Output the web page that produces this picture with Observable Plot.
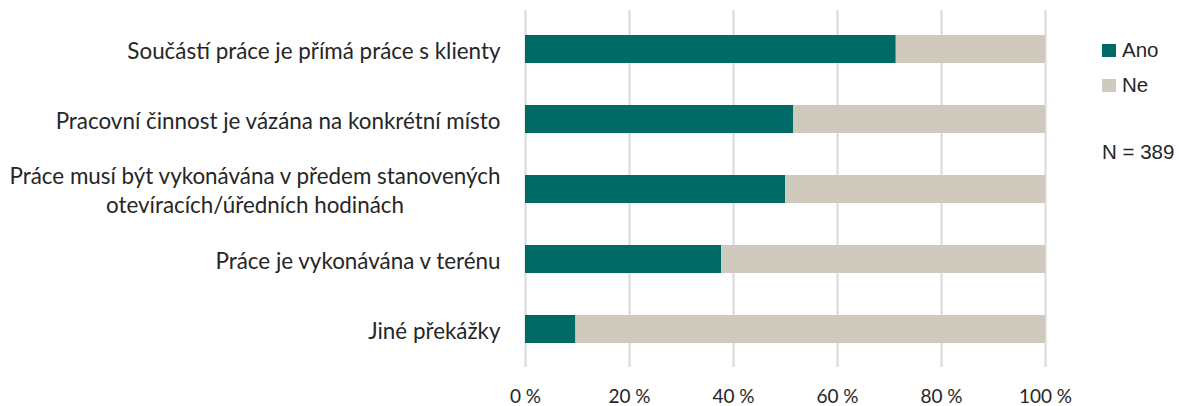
<!DOCTYPE html>
<html>
<head>
<meta charset="utf-8">
<script src="https://cdn.jsdelivr.net/npm/d3@7"></script>
<script src="https://cdn.jsdelivr.net/npm/@observablehq/plot@0.6"></script>
<style>
  body { margin: 0; background: #fff; }
  #wrap { position: relative; width: 1179px; height: 406px; }
  #legend { position: absolute; left: 1102px; top: 37px; font-family: "Liberation Sans", Arial, sans-serif; font-size: 20.5px; color: #262626; }
  .item { display: flex; align-items: center; height: 26px; margin-bottom: 9px; }
  .sw { width: 14px; height: 13px; margin-right: 6px; }
  #note { position: absolute; left: 1102px; top: 140px; font-family: "Liberation Sans", Arial, sans-serif; font-size: 20.5px; color: #262626; white-space: nowrap; }
</style>
</head>
<body>
<div id="wrap"><div id="legend"></div><div id="note"></div></div>
<script>
const categories = [
  "Součástí práce je přímá práce s klienty",
  "Pracovní činnost je vázána na konkrétní místo",
  "Práce musí být vykonávána v předem stanovených\notevíracích/úředních hodinách",
  "Práce je vykonávána v terénu",
  "Jiné překážky"
];
const ano = [71.3, 51.6, 50.0, 37.7, 9.7];
const ne = [28.7, 48.4, 50.0, 62.3, 90.3];
const series = ["Ano", "Ne"];
const colors = ["#006b66", "#d0c9bd"];
const xTicks = [0, 20, 40, 60, 80, 100];
const note = "N = 389";

const data = categories.flatMap((c, i) => [
  {cat: c, s: series[0], v: ano[i]},
  {cat: c, s: series[1], v: ne[i]}
]);

const chart = Plot.plot({
  width: 1179,
  height: 406,
  marginLeft: 525,
  marginRight: 134,
  marginTop: 12,
  marginBottom: 40,
  style: {fontFamily: "Lato, sans-serif", fontSize: "19px", color: "#262626", background: "transparent"},
  x: {domain: [0, 100], label: null},
  y: {domain: categories, paddingInner: 0.6, paddingOuter: 0.32, label: null},
  color: {domain: series, range: colors},
  marks: [
    Plot.gridX(xTicks, {stroke: "#d9d9d9", strokeOpacity: 1, strokeWidth: 2, insetTop: -2, insetBottom: -1}),
    Plot.barX(data, Plot.stackX({y: "cat", x: "v", fill: "s", order: series})),
    Plot.axisX({ticks: xTicks, tickSize: 0, tickPadding: 23, tickFormat: d => d + " %", label: null, fontSize: 19}),
    Plot.axisY({tickSize: 0, tickPadding: 25, label: null, fontSize: 22.4, lineHeight: 1.27})
  ]
});

document.getElementById("wrap").prepend(chart);

// center multi-line category labels like the original
chart.querySelectorAll("text").forEach(t => {
  const spans = t.querySelectorAll("tspan");
  if (spans.length > 1) {
    const bb = t.getBBox();
    const cx = bb.x + bb.width / 2;
    t.setAttribute("text-anchor", "middle");
    spans.forEach(s => s.setAttribute("x", cx));
  }
});

const legend = document.getElementById("legend");
series.forEach((s, i) => {
  const item = document.createElement("div");
  item.className = "item";
  const sw = document.createElement("div");
  sw.className = "sw";
  sw.style.background = colors[i];
  const lab = document.createElement("span");
  lab.textContent = s;
  item.append(sw, lab);
  legend.append(item);
});
document.getElementById("note").textContent = note;
</script>
</body>
</html>
